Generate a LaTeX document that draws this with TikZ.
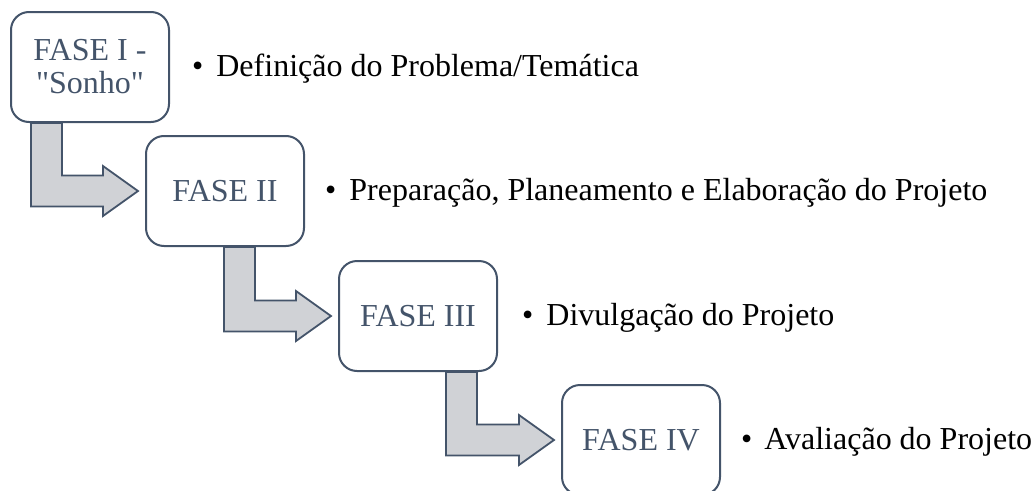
\documentclass[tikz,border=0pt]{standalone}
\usepackage{fontspec}
\setmainfont{Liberation Serif}[Ligatures=TeXOff]
\usetikzlibrary{positioning,calc,backgrounds}
\definecolor{slate}{HTML}{44546A}
\definecolor{arrowgray}{HTML}{D0D2D6}
\tikzset{
  fase/.style={draw=slate,line width=2pt,rounded corners=18pt,fill=white,
    minimum width=158pt,minimum height=110pt,align=center,text=slate,
    font=\fontsize{32}{33}\selectfont},
  tema/.style={inner sep=0pt,anchor=west,text height=22pt,text depth=4pt,
    font=\fontsize{32}{36}\selectfont},
  bendarrow/.style={draw=slate,line width=1.8pt,fill=arrowgray,line join=miter}
}
% #1 left edge of the shaft, #2 box it leaves, #3 box it points to
\newcommand{\bendarrow}[3]{%
  \path[bendarrow] let \p1=(#2.south), \p2=(#3.west) in
    (#1pt,\y1) -- (#1pt+31pt,\y1) -- (#1pt+31pt,\y2+15.5pt) -- (\x2-42pt,\y2+15.5pt)
    -- (\x2-42pt,\y2+25pt) -- (\x2-7pt,\y2) -- (\x2-42pt,\y2-25pt)
    -- (\x2-42pt,\y2-15.5pt) -- (#1pt,\y2-15.5pt) -- cycle;
}
\begin{document}
\begin{tikzpicture}[x=1pt,y=-1pt]
  \useasboundingbox (0,0) rectangle (1036,490);
  % phases
  \node[fase] (f1) at (90,67) {FASE I -\\"Sonho"};
  \node[fase] (f2) at (225,191) {FASE II};
  \node[fase] (f3) at (418,316) {FASE III};
  \node[fase] (f4) at (641,440) {FASE IV};
  \begin{scope}[on background layer]
    \bendarrow{31}{f1}{f2}
    \bendarrow{224}{f2}{f3}
    \bendarrow{446}{f3}{f4}
  \end{scope}
  % descriptions
  \node[tema,right=22pt of f1] (t1) {\textbullet\hspace{13pt}Definição do Problema/Temática};
  \node[tema,right=20pt of f2] (t2) {\textbullet\hspace{13pt}Preparação, Planeamento e Elaboração do Projeto};
  \node[tema,right=24pt of f3] (t3) {\textbullet\hspace{13pt}Divulgação do Projeto};
  \node[tema,right=20pt of f4] (t4) {\textbullet\hspace{12pt}Avaliação do Projeto};
\end{tikzpicture}
\end{document}
